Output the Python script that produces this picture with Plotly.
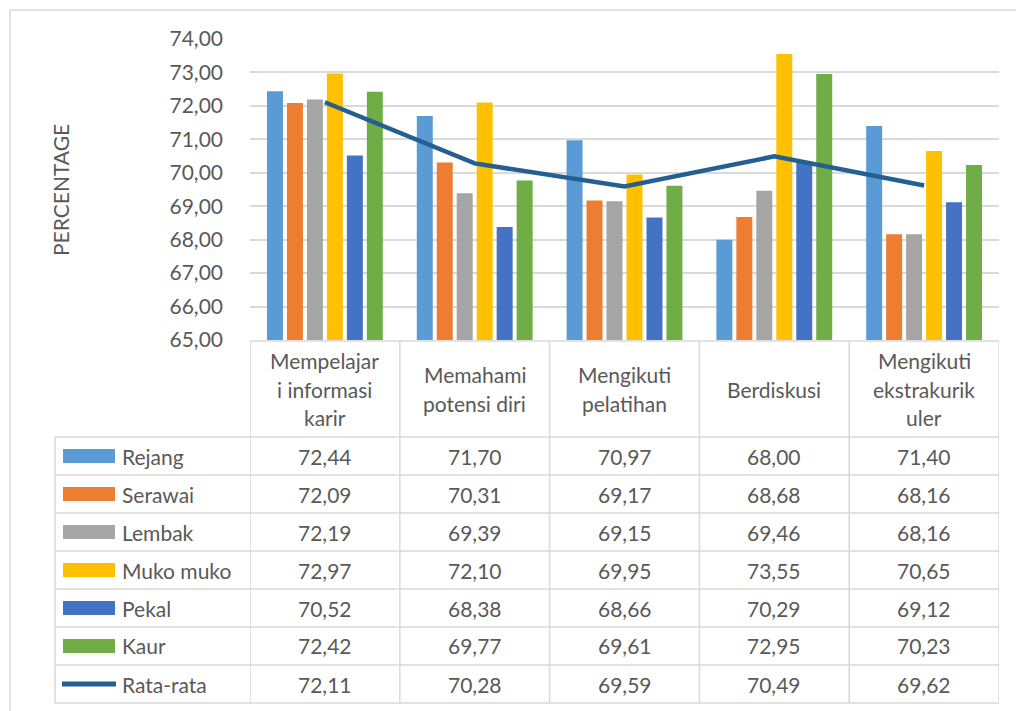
import plotly.graph_objects as go

categories = ["Mempelajar i informasi karir", "Memahami potensi diri", "Mengikuti pelatihan",
              "Berdiskusi", "Mengikuti ekstrakurikuler"]
category_lines = [["Mempelajar", "i informasi", "karir"], ["Memahami", "potensi diri"],
                  ["Mengikuti", "pelatihan"], ["Berdiskusi"], ["Mengikuti", "ekstrakurik", "uler"]]

rejang = [72.44, 71.70, 70.97, 68.00, 71.40]
serawai = [72.09, 70.31, 69.17, 68.68, 68.16]
lembak = [72.19, 69.39, 69.15, 69.46, 68.16]
muko_muko = [72.97, 72.10, 69.95, 73.55, 70.65]
pekal = [70.52, 68.38, 68.66, 70.29, 69.12]
kaur = [72.42, 69.77, 69.61, 72.95, 70.23]
rata_rata = [72.11, 70.28, 69.59, 70.49, 69.62]

series_names = ["Rejang", "Serawai", "Lembak", "Muko muko", "Pekal", "Kaur"]
series_values = [rejang, serawai, lembak, muko_muko, pekal, kaur]
series_colors = ["#5B9BD5", "#ED7D31", "#A5A5A5", "#FFC000", "#4472C4", "#70AD47"]
avg_name = "Rata-rata"
avg_color = "#255E91"

y_ticks = [65, 66, 67, 68, 69, 70, 71, 72, 73, 74]

W, H = 1016, 711
PL, PR, PT, PB = 250, 999, 39, 340
FONT = "Lato, 'Open Sans', sans-serif"
FS = 21
TXT = "#595959"
GRID = "#d9d9d9"


def px(x):
    return (x - PL) / (PR - PL)


def py(y):
    return (PB - y) / (PB - PT)


fig = go.Figure()
idx = list(range(len(categories)))
for name, vals, col in zip(series_names, series_values, series_colors):
    fig.add_trace(go.Bar(x=idx, y=[v - 65 for v in vals], base=65, name=name,
                         marker=dict(color=col, line=dict(width=0))))
fig.add_trace(go.Scatter(x=idx, y=rata_rata, mode="lines", name=avg_name,
                         line=dict(color=avg_color, width=4.5)))

shapes = []
annotations = []

# outer chart border
shapes.append(dict(type="rect", xref="paper", yref="paper", x0=px(10), x1=px(1030),
                   y0=py(730), y1=py(10), line=dict(color=GRID, width=1.5)))

# table geometry
header_top = 341
header_bot = 437
row_h = 38
n_rows = len(series_names) + 1
table_bot = header_bot + row_h * n_rows
left_x = 55

line_style = dict(color=GRID, width=1.5)
# horizontal lines
shapes.append(dict(type="line", xref="x", yref="paper", x0=-0.5, x1=4.5,
                   y0=py(header_top), y1=py(header_top), line=line_style))
for r in range(n_rows + 1):
    yy = header_bot + r * row_h
    shapes.append(dict(type="line", xref="paper", yref="paper", x0=px(left_x), x1=1.0,
                       y0=py(yy), y1=py(yy), line=line_style))
# vertical lines
shapes.append(dict(type="line", xref="paper", yref="paper", x0=px(left_x), x1=px(left_x),
                   y0=py(header_bot), y1=py(table_bot), line=line_style))
for i in range(len(categories) + 1):
    shapes.append(dict(type="line", xref="x", yref="paper", x0=i - 0.5, x1=i - 0.5,
                       y0=py(header_top), y1=py(table_bot), line=line_style))

# category header labels
line_gap = 28.5
header_mid = (header_top + header_bot) / 2
for i, lines in enumerate(category_lines):
    n = len(lines)
    for k, t in enumerate(lines):
        yc = header_mid + (k - (n - 1) / 2) * line_gap
        annotations.append(dict(x=i, xref="x", y=py(yc), yref="paper", text=t, showarrow=False,
                                xanchor="center", yanchor="middle",
                                font=dict(family=FONT, size=FS, color=TXT)))

# rows
all_names = series_names + [avg_name]
all_vals = series_values + [rata_rata]
all_cols = series_colors + [avg_color]
for r, (name, vals, col) in enumerate(zip(all_names, all_vals, all_cols)):
    yc = header_bot + r * row_h + row_h / 2
    if name == avg_name:
        shapes.append(dict(type="line", xref="paper", yref="paper", x0=px(62), x1=px(116),
                           y0=py(yc), y1=py(yc), line=dict(color=col, width=5)))
    else:
        shapes.append(dict(type="rect", xref="paper", yref="paper", x0=px(63), x1=px(115),
                           y0=py(yc + 7), y1=py(yc - 7), line=dict(width=0), fillcolor=col))
    annotations.append(dict(x=px(120), xref="paper", y=py(yc), yref="paper", text=name,
                            showarrow=False, xanchor="left", yanchor="middle",
                            font=dict(family=FONT, size=FS, color=TXT)))
    for i, v in enumerate(vals):
        annotations.append(dict(x=i, xref="x", y=py(yc), yref="paper",
                                text=f"{v:.2f}".replace(".", ","), showarrow=False,
                                xanchor="center", yanchor="middle",
                                font=dict(family=FONT, size=FS, color=TXT)))

# y axis title
annotations.append(dict(x=px(60), xref="paper", y=py(190), yref="paper", text="PERCENTAGE",
                        textangle=-90, showarrow=False, xanchor="center", yanchor="middle",
                        font=dict(family=FONT, size=FS, color=TXT)))

fig.update_layout(
    width=W, height=H,
    margin=dict(l=PL, r=W - PR, t=PT, b=H - PB, pad=0),
    paper_bgcolor="white", plot_bgcolor="white",
    barmode="group", bargap=0.2, bargroupgap=0.2,
    showlegend=False,
    separators=",.",
    shapes=shapes, annotations=annotations,
    xaxis=dict(range=[-0.5, 4.5], showticklabels=False, showgrid=False, zeroline=False,
               showline=False, ticks=""),
    yaxis=dict(range=[65, 74], tickvals=y_ticks, tickformat=".2f", showgrid=True,
               gridcolor=GRID, gridwidth=1.5, zeroline=False, showline=False, ticks="",
               ticklabelstandoff=26,
               tickfont=dict(family=FONT, size=FS, color=TXT)),
)

fig.write_html("out.html")
